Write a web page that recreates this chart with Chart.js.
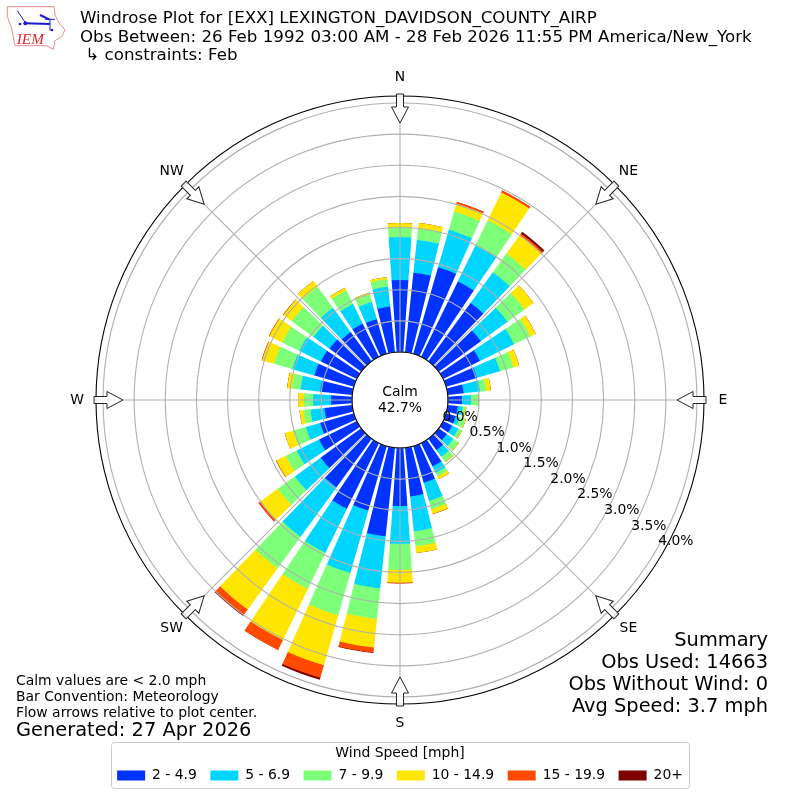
<!DOCTYPE html>
<html>
<head>
<meta charset="utf-8">
<style>html,body{margin:0;padding:0;background:#fff}canvas{display:block}</style>
<script src="https://cdn.jsdelivr.net/npm/chart.js@4"></script>
</head>
<body>
<canvas id="c" width="800" height="800"></canvas>
<script>
// Direction of each bar, degrees clockwise from north
const directions = [0,10,20,30,40,50,60,70,80,90,100,110,120,130,140,150,160,170,180,190,200,210,220,230,240,250,260,270,280,290,300,310,320,330,340,350];
const speedBins = ['2 - 4.9','5 - 6.9','7 - 9.9','10 - 14.9','15 - 19.9','20+'];
const binColors = ['#0033ff','#00d5ff','#7dff7a','#ffe600','#ff4a00','#7f0000'];
// Percent of observations per direction, one array per speed bin
const bin2to5 = [1.157,1.285,1.446,1.349,1.157,.835,.659,.514,.257,.225,.16,.16,.16,.16,.225,.418,.61,.787,.932,1.43,1.076,1.173,.964,.803,.675,.562,.45,.337,.514,.659,.643,.627,.578,.594,.578,.739];
const bin5to7 = [.691,.53,.627,.643,.61,.53,.61,.386,.265,.145,.08,.06,.11,.13,.13,.113,.305,.562,.61,.843,1.044,.787,.98,.514,.402,.241,.225,.289,.321,.369,.386,.321,.482,.353,.289,.321];
const bin7to10 = [.161,.193,.305,.45,.369,.337,.289,.225,.098,.112,.05,.10,.06,.10,.10,.064,.137,.241,.418,.49,.707,.643,.627,.337,.193,.209,.112,.145,.137,.305,.305,.434,.418,.241,.129,.12];
const bin10to15 = [.064,.08,.129,.498,.369,.177,.096,.096,.077,.008,.01,.01,.01,.01,.012,.048,.08,.112,.204,.466,.835,.916,.819,.353,.169,.145,.064,.096,.08,.2,.23,.165,.115,.048,.024,.032];
const bin15to20 = [0,0,.032,.032,.032,0,0,0,0,0,0,0,0,0,0,0,.004,0,.013,.08,.209,.177,.112,.032,.008,0,0,0,0,.008,.008,.008,0,0,0,0];
const bin20up = [0,0,0,0,.032,0,0,0,0,0,0,0,0,0,0,0,0,0,0,.008,.032,0,.016,0,0,0,0,0,0,0,0,0,0,0,0,0];
const tickValues = [0,.5,1,1.5,2,2.5,3,3.5,4];
const compassLabels = ['N','NE','E','SE','S','SW','W','NW'];
const titleLines = ['Windrose Plot for [EXX] LEXINGTON_DAVIDSON_COUNTY_AIRP','Obs Between: 26 Feb 1992 03:00 AM - 28 Feb 2026 11:55 PM America/New_York',' \u21B3 constraints: Feb'];
const noteLines = ['Calm values are < 2.0 mph','Bar Convention: Meteorology','Flow arrows relative to plot center.'];
const generatedText = 'Generated: 27 Apr 2026';
const summaryLines = ['Summary','Obs Used: 14663','Obs Without Wind: 0','Avg Speed: 3.7 mph'];
const calmLines = ['Calm','42.7%'];

const FONT = '"DejaVu Sans"';
const BAR_DEG = 8, GAP_DEG = 2;
const SCALE_MIN = -0.771, SCALE_MAX = 4.113;
const bins = [bin2to5,bin5to7,bin7to10,bin10to15,bin15to20,bin20up];

// Each direction becomes a bar slot and a gap slot; values pile up outward.
const labels = [], running = directions.map(() => 0);
directions.forEach(d => { labels.push(String(d), d + ' gap'); });
const datasets = bins.map((bin, b) => {
  const data = [];
  bin.forEach((v, i) => { running[i] += v; data.push(running[i], 0); });
  return {
    label: speedBins[b], data,
    backgroundColor: ctx => (ctx.index % 2 ? 'transparent' : binColors[b]),
    borderWidth: 0,
    angle: ctx => (ctx.index % 2 ? GAP_DEG : BAR_DEG)
  };
});

// Polar area whose wedges start where the previous speed bin ended.
class WindRoseController extends Chart.PolarAreaController {
  updateElements(arcs, start, count, mode) {
    super.updateElements(arcs, start, count, mode);
    const scale = this._cachedMeta.rScale;
    const prev = this.index > 0 ? this.chart.data.datasets[this.index - 1].data : null;
    for (let i = start; i < start + count; i++) {
      const base = prev ? prev[i] : 0;
      arcs[i].innerRadius = scale.getDistanceFromCenterForValue(base) - (prev ? 0.6 : 0);
    }
  }
}
WindRoseController.id = 'windrose';
Chart.register(WindRoseController);

function text(ctx, str, x, y, size, align, color) {
  ctx.font = size + 'px ' + FONT;
  ctx.textAlign = align || 'left';
  ctx.textBaseline = 'middle';
  ctx.fillStyle = color || '#000';
  ctx.fillText(str, x, y);
}

const rosePlugin = {
  id: 'rose',
  afterLayout(chart) {
    const s = chart.scales.r;
    s.xCenter = 400; s.yCenter = 400; s.drawingArea = 304;
  },
  beforeDraw(chart) {
    const ctx = chart.ctx, lg = chart.legend;
    const boxes = lg.legendHitBoxes;
    const l = boxes[0].left - 6, r = boxes[boxes.length-1].left + boxes[boxes.length-1].width + 6;
    ctx.save();
    ctx.fillStyle = '#fff'; ctx.fillRect(0,0,800,800);
    ctx.beginPath();
    ctx.roundRect(Math.round(l) + .5, Math.round(lg.top) + .5, Math.round(r - l), 46, 3);
    ctx.strokeStyle = '#cccccc'; ctx.lineWidth = 1; ctx.stroke();
    ctx.restore();
  },
  afterDraw(chart) {
    const s = chart.scales.r, ctx = chart.ctx;
    const cx = s.xCenter, cy = s.yCenter, R = s.drawingArea;
    const r0 = s.getDistanceFromCenterForValue(0);
    ctx.save();
    // spokes
    ctx.strokeStyle = '#b0b0b0'; ctx.lineWidth = 1.1;
    compassLabels.forEach((_, i) => {
      const a = i * Math.PI / 4, sx = Math.sin(a), sy = -Math.cos(a);
      ctx.beginPath();
      ctx.moveTo(cx + r0*sx, cy + r0*sy);
      ctx.lineTo(cx + R*sx, cy + R*sy);
      ctx.stroke();
    });
    // frame and inner circle
    ctx.strokeStyle = '#000'; ctx.lineWidth = 1.1;
    ctx.beginPath(); ctx.arc(cx, cy, R, 0, Math.PI*2); ctx.stroke();
    ctx.beginPath(); ctx.arc(cx, cy, r0, 0, Math.PI*2); ctx.stroke();
    // flow arrows and compass labels
    compassLabels.forEach((lab, i) => {
      const a = i * Math.PI / 4;
      ctx.save();
      ctx.translate(cx, cy); ctx.rotate(a);
      ctx.beginPath();
      ctx.moveTo(-3.5,-306); ctx.lineTo(3.5,-306); ctx.lineTo(3.5,-293); ctx.lineTo(8.5,-293);
      ctx.lineTo(0,-277); ctx.lineTo(-8.5,-293); ctx.lineTo(-3.5,-293); ctx.closePath();
      ctx.fillStyle = 'rgba(255,255,255,.85)'; ctx.fill();
      ctx.strokeStyle = '#222'; ctx.lineWidth = 1; ctx.stroke();
      ctx.restore();
      text(ctx, lab, cx + 323*Math.sin(a), cy - 323*Math.cos(a), 13.9, 'center');
    });
    // radial tick labels
    const th = Math.PI/6;
    tickValues.forEach(v => {
      const r = s.getDistanceFromCenterForValue(v);
      text(ctx, v.toFixed(1) + '%', cx + r*Math.cos(th) + 18.6, cy + r*Math.sin(th) - 7, 13.9, 'center');
    });
    text(ctx, calmLines[0], cx, 392, 13.9, 'center');
    text(ctx, calmLines[1], cx, 408, 13.9, 'center');
    // title
    titleLines.forEach((t, i) => text(ctx, t, 80, 19 + i*18.5, 15.3 * 672 / 617));
    // notes
    noteLines.forEach((t, i) => text(ctx, t, 16, 681 + i*16, 13.9));
    text(ctx, generatedText, 16, 730.5, 19.4);
    // summary
    summaryLines.forEach((t, i) => text(ctx, t, 768, 641 + i*22, 19.4, 'right'));
    drawLogo(ctx);
    ctx.restore();
  }
};

function drawLogo(ctx) {
  ctx.save();
  ctx.scale(1/3, 1/3);
  ctx.strokeStyle = '#e88a8a'; ctx.lineWidth = 3;
  ctx.beginPath();
  [[22,20],[162,20],[165,45],[178,70],[195,90],[185,110],[165,122],[160,148],[140,137],[45,137],[35,85],[22,50]]
    .forEach((p, i) => i ? ctx.lineTo(p[0],p[1]) : ctx.moveTo(p[0],p[1]));
  ctx.closePath(); ctx.stroke();
  ctx.strokeStyle = '#1a1acc'; ctx.fillStyle = '#1a1acc';
  ctx.lineWidth = 6;
  ctx.beginPath(); ctx.moveTo(76,70); ctx.lineTo(150,72); ctx.stroke();
  ctx.beginPath(); ctx.moveTo(120,45); ctx.lineTo(148,58); ctx.stroke();
  ctx.lineWidth = 3;
  ctx.beginPath(); ctx.moveTo(52,32); ctx.lineTo(76,68); ctx.stroke();
  ctx.beginPath(); ctx.moveTo(135,58); ctx.lineTo(165,58); ctx.moveTo(150,58); ctx.lineTo(150,92); ctx.stroke();
  ctx.beginPath(); ctx.arc(76,70,6,0,Math.PI*2); ctx.fill();
  ctx.beginPath(); ctx.arc(60,72,4,0,Math.PI*2); ctx.fill();
  ctx.beginPath(); ctx.arc(156,90,4,0,Math.PI*2); ctx.fill();
  ctx.font = 'italic 46px "Liberation Serif"';
  ctx.fillStyle = '#d9282f'; ctx.textAlign = 'left'; ctx.textBaseline = 'alphabetic';
  ctx.fillText('IEM', 50, 132);
  ctx.restore();
}

new Chart(document.getElementById('c'), {
  type: 'windrose',
  data: { labels, datasets },
  plugins: [rosePlugin],
  options: {
    responsive: false,
    animation: false,
    devicePixelRatio: 1,
    layout: { padding: { bottom: 7.5 } },
    scales: {
      r: {
        type: 'radialLinear',
        min: SCALE_MIN,
        max: SCALE_MAX,
        startAngle: -BAR_DEG / 2,
        afterBuildTicks: sc => { sc.ticks = tickValues.map(value => ({ value })); },
        ticks: { display: false },
        pointLabels: { display: false },
        angleLines: { display: false },
        grid: { circular: true, color: '#b0b0b0', lineWidth: 1.1, z: 1 }
      }
    },
    plugins: {
      tooltip: { enabled: false },
      legend: {
        display: true,
        position: 'bottom',
        title: { display: true, text: 'Wind Speed [mph]', color: '#000', padding: { top: 4, bottom: -8 }, font: { family: FONT, size: 13.9 } },
        labels: {
          boxWidth: 28,
          boxHeight: 10,
          padding: 13.5,
          color: '#000',
          font: { family: FONT, size: 13.9 },
          generateLabels: () => speedBins.map((t, i) => ({ text: t, fillStyle: binColors[i], strokeStyle: binColors[i], lineWidth: 0, datasetIndex: i, hidden: false }))
        }
      }
    }
  }
});
</script>
</body>
</html>
